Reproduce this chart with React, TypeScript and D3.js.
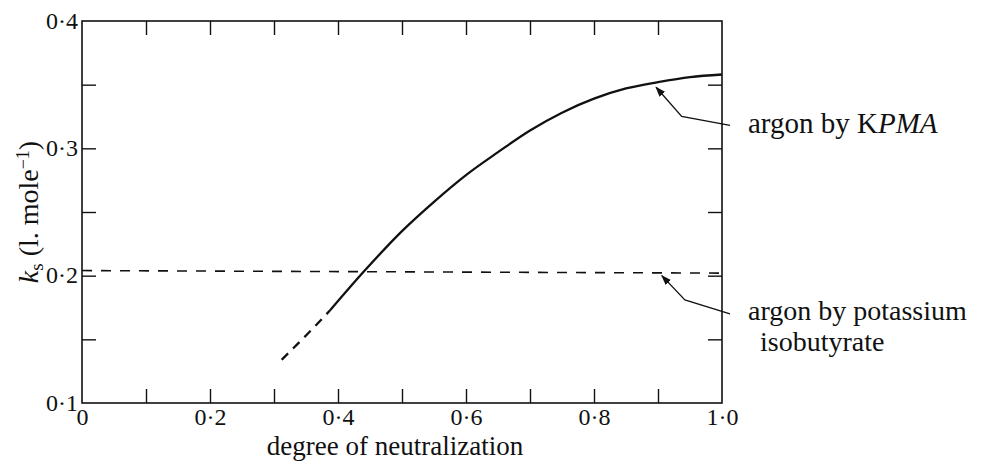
import React, { useEffect, useRef } from 'react';
import * as d3 from 'd3';

// data
const xTicks = [0, 0.1, 0.2, 0.3, 0.4, 0.5, 0.6, 0.7, 0.8, 0.9, 1.0];
const yTicks = [0.1, 0.15, 0.2, 0.25, 0.3, 0.35, 0.4];
const kpmaDashedX = [0.312, 0.35, 0.388];
const kpmaDashedY = [0.134, 0.153, 0.173];
const kpmaX = [0.388, 0.44, 0.5, 0.55, 0.6, 0.65, 0.7, 0.75, 0.8, 0.85, 0.9, 0.95, 1.0];
const kpmaY = [0.173, 0.203, 0.235, 0.258, 0.279, 0.297, 0.314, 0.328, 0.339, 0.347, 0.352, 0.356, 0.358];
const isoX = [0, 1.0];
const isoY = [0.204, 0.202];

export default function App() {
  const ref = useRef<SVGSVGElement>(null);

  useEffect(() => {
    drawChart();
  }, []);

  function drawChart() {
    const root = d3.select(ref.current);
    root.selectAll('*').remove();

    const margin = { top: 13, right: 266, bottom: 59, left: 74 };
    const width = 980 - margin.left - margin.right;
    const height = 454 - margin.top - margin.bottom;
    const font = '"Liberation Serif", "DejaVu Serif", serif';

    const svg = root
      .append('g')
      .attr('transform', `translate(${margin.left},${margin.top})`);

    const xScale = d3.scaleLinear().domain([0, 1]).range([0, width]);
    const yScale = d3.scaleLinear().domain([0.1, 0.4]).range([height, 0]);

    const fmt = (d: number) => (d === 0 ? '0' : d3.format('.1f')(d).replace('.', '·'));

    // frame
    svg.append('rect')
      .attr('width', width)
      .attr('height', height)
      .attr('fill', 'none')
      .attr('stroke', '#111')
      .attr('stroke-width', 1.6);

    // inward ticks on all four sides
    const bottom = svg.append('g')
      .attr('transform', `translate(0,${height})`)
      .call(d3.axisBottom(xScale).tickValues(xTicks).tickSize(-14).tickPadding(5)
        .tickFormat((d: any) => (Math.round(d * 10) % 2 === 0 ? fmt(d) : '')));
    const top = svg.append('g')
      .call(d3.axisTop(xScale).tickValues(xTicks.slice(1, -1)).tickSize(-14).tickFormat(() => ''));
    const left = svg.append('g')
      .call(d3.axisLeft(yScale).tickValues(yTicks).tickSize(-14).tickPadding(4)
        .tickFormat((d: any) => (Math.round(d * 100) % 10 === 0 ? fmt(d) : '')));
    const right = svg.append('g')
      .attr('transform', `translate(${width},0)`)
      .call(d3.axisRight(yScale).tickValues(yTicks.slice(1, -1)).tickSize(-14).tickFormat(() => ''));

    [bottom, top, left, right].forEach(g => {
      g.select('.domain').remove();
      g.selectAll('.tick line').attr('stroke', '#111').attr('stroke-width', 1.4);
      g.selectAll('.tick text').attr('font-family', font).attr('font-size', 24).attr('fill', '#111');
    });
    // no ticks in the corners
    bottom.selectAll('.tick line').filter((d: any) => d === 0 || d === 1).remove();
    left.selectAll('.tick line').filter((d: any) => d === 0.1 || d === 0.4).remove();
    left.selectAll('.tick text').attr('dy', '0.3em');

    // axis titles
    svg.append('text')
      .attr('x', xScale(0.489))
      .attr('y', height + 52)
      .attr('text-anchor', 'middle')
      .attr('font-family', font)
      .attr('font-size', 27)
      .attr('fill', '#111')
      .text('degree of neutralization');

    const yl = svg.append('text')
      .attr('transform', `translate(-44,${height / 2}) rotate(-90)`)
      .attr('text-anchor', 'middle')
      .attr('font-family', font)
      .attr('font-size', 28)
      .attr('fill', '#111');
    yl.append('tspan').attr('font-style', 'italic').text('k');
    yl.append('tspan').attr('font-size', 19).attr('dy', 5).text('s');
    yl.append('tspan').attr('dy', -5).text(' (l. mole');
    yl.append('tspan').attr('font-size', 18).attr('dy', -9).text('−1');
    yl.append('tspan').attr('dy', 9).text(')');

    const line = d3.line<[number, number]>()
      .x(d => xScale(d[0]))
      .y(d => yScale(d[1]))
      .curve(d3.curveMonotoneX);

    svg.append('path')
      .datum(d3.zip(kpmaDashedX, kpmaDashedY) as [number, number][])
      .attr('fill', 'none')
      .attr('stroke', '#111')
      .attr('stroke-width', 2.3)
      .attr('stroke-dasharray', '9,7')
      .attr('d', line);

    svg.append('path')
      .datum(d3.zip(kpmaX, kpmaY) as [number, number][])
      .attr('fill', 'none')
      .attr('stroke', '#111')
      .attr('stroke-width', 2.3)
      .attr('d', line);

    svg.append('path')
      .datum(d3.zip(isoX, isoY) as [number, number][])
      .attr('fill', 'none')
      .attr('stroke', '#111')
      .attr('stroke-width', 1.6)
      .attr('stroke-dasharray', '10,9')
      .attr('d', d3.line<[number, number]>().x(d => xScale(d[0])).y(d => yScale(d[1])));

    // annotations with leader arrows
    root.append('defs').append('marker')
      .attr('id', 'arrow')
      .attr('viewBox', '0 0 10 10')
      .attr('refX', 9)
      .attr('refY', 5)
      .attr('markerWidth', 8)
      .attr('markerHeight', 8)
      .attr('orient', 'auto')
      .append('path')
      .attr('d', 'M0,1.5 L10,5 L0,8.5 Z')
      .attr('fill', '#111');

    svg.append('polyline')
      .attr('points', [
        [width + 8, yScale(0.318)],
        [xScale(0.937), yScale(0.325)],
        [xScale(0.897), yScale(0.348)],
      ].map(p => p.join(',')).join(' '))
      .attr('fill', 'none')
      .attr('stroke', '#111')
      .attr('stroke-width', 1.3)
      .attr('marker-end', 'url(#arrow)');

    const t1 = svg.append('text')
      .attr('x', width + 26)
      .attr('y', yScale(0.312))
      .attr('font-family', font)
      .attr('font-size', 29)
      .attr('fill', '#111');
    t1.append('tspan').text('argon by K');
    t1.append('tspan').attr('font-style', 'italic').text('PMA');

    svg.append('polyline')
      .attr('points', [
        [width + 8, yScale(0.17)],
        [xScale(0.942), yScale(0.181)],
        [xScale(0.906), yScale(0.2)],
      ].map(p => p.join(',')).join(' '))
      .attr('fill', 'none')
      .attr('stroke', '#111')
      .attr('stroke-width', 1.3)
      .attr('marker-end', 'url(#arrow)');

    const t2 = svg.append('text')
      .attr('y', yScale(0.165))
      .attr('font-family', font)
      .attr('font-size', 28)
      .attr('fill', '#111');
    t2.append('tspan').attr('x', width + 26).text('argon by potassium');
    t2.append('tspan').attr('x', width + 38).attr('dy', 31).text('isobutyrate');
  }

  return <svg ref={ref} width={980} height={454} style={{ display: 'block', background: '#fff' }} />;
}
